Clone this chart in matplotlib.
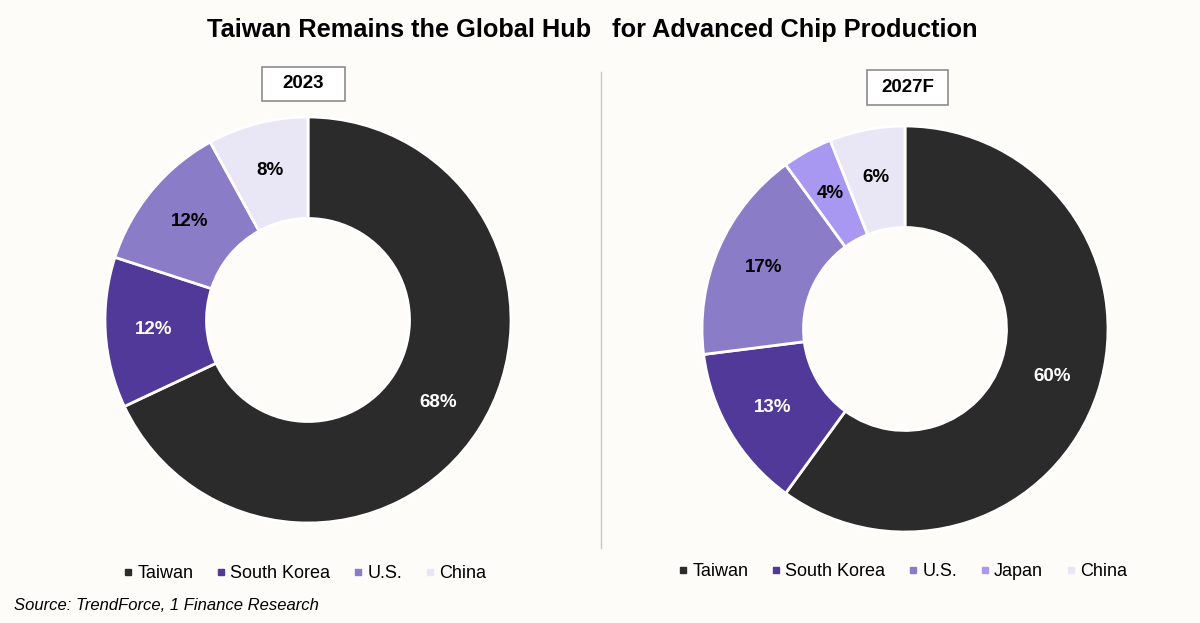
import matplotlib
matplotlib.use("Agg")
import matplotlib.pyplot as plt
import numpy as np
from matplotlib.patches import Rectangle
from matplotlib.lines import Line2D

plt.rcParams['font.family'] = ['Liberation Sans', 'DejaVu Sans']

title = "Taiwan Remains the Global Hub   for Advanced Chip Production"
source = "Source: TrendForce, 1 Finance Research"

labels_2023 = ["Taiwan", "South Korea", "U.S.", "China"]
values_2023 = [68, 12, 12, 8]
colors_2023 = ["#2b2b2b", "#51399a", "#8a7cc6", "#e9e6f5"]

labels_2027 = ["Taiwan", "South Korea", "U.S.", "Japan", "China"]
values_2027 = [60, 13, 17, 4, 6]
colors_2027 = ["#2b2b2b", "#51399a", "#8a7cc6", "#a898f2", "#e9e6f5"]

bg = "#fdfcf8"
W, H = 1200, 623
fig = plt.figure(figsize=(W / 100, H / 100), dpi=100, facecolor=bg)

def add_donut(cx, cy, r, values, colors, labels, year, boxc, legy, legx):
    ax = fig.add_axes([(cx - r) / W, (H - cy - r) / H, 2 * r / W, 2 * r / H])
    ax.set_facecolor(bg)
    wedges, texts = ax.pie(values, colors=colors, startangle=90, counterclock=False,
                           radius=1.0,
                           wedgeprops=dict(width=0.5, edgecolor="white", linewidth=2))
    ang = 90.0
    for v, w in zip(values, wedges):
        mid = ang - v * 3.6 / 2
        ang -= v * 3.6
        rr = 0.76
        x = rr * np.cos(np.radians(mid))
        y = rr * np.sin(np.radians(mid))
        fc = w.get_facecolor()
        col = "white" if fc[0] < 0.4 else "black"
        ax.text(x, y, f"{v}%", ha="center", va="center", fontsize=13.5,
                fontweight="bold", color=col)
    ax.set_xlim(-1, 1)
    ax.set_ylim(-1, 1)
    ax.set_aspect("equal")
    ax.axis("off")
    bx, by, bw, bh = boxc
    fig.patches.append(Rectangle((bx / W, 1 - (by + bh) / H), bw / W, bh / H,
                                 transform=fig.transFigure, facecolor="white",
                                 edgecolor="#8c8c8c", linewidth=1.2))
    fig.text((bx + bw / 2) / W, 1 - (by + bh / 2) / H, year, ha="center", va="center",
             fontsize=13.5, fontweight="bold")
    handles = [Line2D([], [], marker="s", linestyle="", markersize=4.5,
                      markerfacecolor=c, markeredgecolor=c) for c in colors]
    fig.legend(handles, labels, loc="center", bbox_to_anchor=(legx / W, 1 - legy / H),
               ncol=len(labels), frameon=False, fontsize=13, handlelength=0.5,
               handletextpad=0.25, columnspacing=1.3)
    return ax

add_donut(308, 320, 203, values_2023, colors_2023, labels_2023, "2023",
          (262, 67, 83, 34), 574, 305)
add_donut(905, 329, 203, values_2027, colors_2027, labels_2027, "2027F",
          (867, 70, 81, 35), 572, 903)

fig.add_artist(Line2D([601 / W, 601 / W], [1 - 72 / H, 1 - 548 / H],
                      transform=fig.transFigure, color="#c8c8c8", linewidth=1))

fig.text(592 / W, 1 - 30 / H, title, ha="center", va="center", fontsize=18.3,
         fontweight="bold")
fig.text(14 / W, 1 - 605 / H, source, ha="left", va="center", fontsize=12,
         style="italic")

fig.savefig("out.png", dpi=100, facecolor=bg)
